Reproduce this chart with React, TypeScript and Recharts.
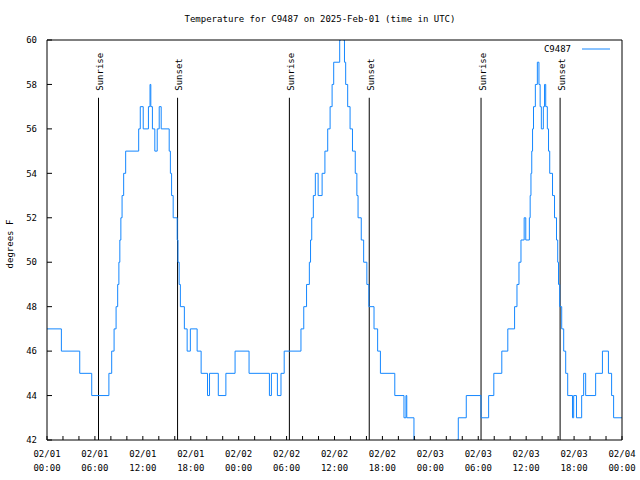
import { Legend, Line, LineChart, ReferenceLine, XAxis, YAxis } from 'recharts';

const FONT = '"DejaVu Sans Mono", "Liberation Mono", monospace';
const LINE_COLOUR = '#1487ff';

// hours since 2025-02-01 00:00 UTC where the reading changes, and the new reading (degrees F)
const HOURS = [
  0, 1.8, 4.1, 5.6, 7.75, 8.1, 8.4, 8.65, 8.85, 9.0, 9.12, 9.25, 9.4, 9.6, 9.85, 11.48, 11.68, 12.05,
  12.7, 12.9, 13.0, 13.2, 13.5, 13.8, 14.05, 14.3, 15.3, 15.45, 15.6, 15.8, 16.3, 16.4, 16.55, 16.7,
  17.2, 17.55, 17.95, 18.8, 19.3, 20.1, 20.35, 21.45, 22.4, 23.55, 25.3, 27.85, 28.1, 28.85, 29.3,
  29.7, 31.8, 32.15, 32.5, 32.85, 33.0, 33.15, 33.35, 33.6, 33.95, 34.45, 34.8, 35.15, 35.45, 35.7,
  35.9, 36.65, 36.8, 37.1, 37.25, 37.4, 37.65, 37.95, 38.25, 38.6, 38.8, 38.95, 39.35, 39.65, 40.05,
  40.3, 40.95, 41.4, 41.75, 43.55, 44.7, 44.95, 45.05, 45.95, 46.15, 51.3, 51.5, 52.5, 54.35, 55.3,
  55.95, 56.95, 57.7, 58.55, 58.85, 59.1, 59.35, 59.75, 59.95, 60.4, 60.5, 60.6, 60.7, 60.8, 60.92,
  61.15, 61.4, 61.6, 61.75, 61.9, 62.15, 62.3, 62.45, 62.65, 62.8, 62.95, 63.3, 63.55, 63.8, 63.95,
  64.05, 64.2, 64.45, 64.7, 64.95, 65.2, 65.8, 65.95, 66.3, 66.95, 67.2, 67.45, 68.7, 69.55, 70.3,
  70.7, 70.95, 72,
];
const TEMPS = [
  47, 46, 45, 44, 45, 46, 47, 48, 49, 50, 51, 52, 53, 54, 55, 56, 57, 56,
  57, 58, 57, 56, 55, 56, 57, 56, 55, 54, 53, 52, 51, 50, 49, 48,
  47, 46, 47, 46, 45, 44, 45, 44, 45, 46, 45, 44, 45, 44, 45,
  46, 47, 48, 49, 50, 51, 52, 53, 54, 53, 54, 55, 56, 57, 58,
  59, 60, 61, 60, 59, 58, 57, 56, 55, 54, 53, 52, 51, 50, 49,
  48, 47, 46, 45, 44, 43, 44, 43, 42, 41, 42, 43, 44, 43, 44,
  45, 46, 47, 48, 49, 50, 51, 52, 51, 52, 53, 54, 55, 56, 57,
  58, 59, 58, 57, 56, 57, 58, 57, 56, 55, 54, 53, 52, 51, 50,
  49, 48, 47, 46, 45, 44, 43, 44, 43, 44, 45, 44, 45, 46, 45,
  44, 43, 43,
];

const SUNRISE = [6.45, 30.35, 54.35];
const SUNSET = [16.35, 40.35, 64.25];
const SUN_LINE_TOP = 57.4;

const X_TICKS = [0, 2, 4, 6, 8, 10, 12, 14, 16, 18, 20, 22, 24, 26, 28, 30, 32, 34, 36, 38, 40, 42, 44, 46, 48, 50, 52, 54, 56, 58, 60, 62, 64, 66, 68, 70, 72];
const Y_TICKS = [42, 44, 46, 48, 50, 52, 54, 56, 58, 60];

const rows = HOURS.map((h, i) => ({ h, t: TEMPS[i] }));

const pad = (n: number) => String(n).padStart(2, '0');

function TimeTick(props: any) {
  const { x, y, payload } = props;
  const h = payload.value;
  if (h % 6 !== 0) return <g />;
  const day = Math.floor(h / 24) + 1;
  return (
    <g>
      <text x={x} y={y + 21} textAnchor="middle" fontSize={9} fontFamily={FONT} fill="#000">
        {`02/${pad(day)}`}
      </text>
      <text x={x} y={y + 35} textAnchor="middle" fontSize={9} fontFamily={FONT} fill="#000">
        {`${pad(h % 24)}:00`}
      </text>
    </g>
  );
}

const sunLabel = (text: string) => (props: any) => {
  const { x, y } = props.viewBox;
  const lx = x + 4.5;
  const ly = y - 7;
  return (
    <text x={lx} y={ly} transform={`rotate(-90 ${lx} ${ly})`} fontSize={9} fontFamily={FONT} fill="#000">
      {text}
    </text>
  );
};

export default function App() {
  return (
    <div style={{ position: 'absolute', left: 0, top: 0, width: 640, height: 480, background: '#fff' }}>
      <LineChart width={640} height={480} data={rows} margin={{ top: 30, right: 8, bottom: 0, left: 0 }}>
        <XAxis
          dataKey="h"
          type="number"
          domain={[0, 72]}
          ticks={X_TICKS}
          interval={0}
          height={40}
          tickSize={-4}
          tickMargin={0}
          tick={TimeTick}
          stroke="#000"
        />
        <XAxis
          xAxisId="top"
          orientation="top"
          type="number"
          domain={[0, 72]}
          ticks={X_TICKS}
          interval={0}
          height={10}
          tickSize={-4}
          tick={false}
          stroke="#000"
        />
        <YAxis
          type="number"
          domain={[42, 60]}
          ticks={Y_TICKS}
          interval={0}
          allowDataOverflow
          width={47}
          tickSize={-5}
          tickMargin={15}
          tick={{ fontSize: 9, fontFamily: FONT, fill: '#000' }}
          stroke="#000"
        />
        <YAxis
          yAxisId="right"
          orientation="right"
          type="number"
          domain={[42, 60]}
          ticks={Y_TICKS}
          interval={0}
          width={10}
          tickSize={-5}
          tick={false}
          stroke="#000"
        />
        {SUNRISE.map((h) => (
          <ReferenceLine
            key={`r${h}`}
            segment={[{ x: h, y: 42 }, { x: h, y: SUN_LINE_TOP }]}
            stroke="#000"
            label={sunLabel('Sunrise')}
          />
        ))}
        {SUNSET.map((h) => (
          <ReferenceLine
            key={`s${h}`}
            segment={[{ x: h, y: 42 }, { x: h, y: SUN_LINE_TOP }]}
            stroke="#000"
            label={sunLabel('Sunset')}
          />
        ))}
        <Legend
          layout="vertical"
          align="center"
          verticalAlign="middle"
          wrapperStyle={{ position: 'absolute', left: 500, top: 42, width: 110 }}
          content={() => (
            <div style={{ display: 'flex', justifyContent: 'flex-end', alignItems: 'center', height: 14 }}>
              <span style={{ fontFamily: FONT, fontSize: 9, color: '#000' }}>C9487</span>
              <svg width={28} height={14} style={{ marginLeft: 11 }}>
                <line x1={0} y1={7} x2={28} y2={7} stroke={LINE_COLOUR} strokeWidth={1} />
              </svg>
            </div>
          )}
        />
        <Line
          type="stepAfter"
          dataKey="t"
          name="C9487"
          stroke={LINE_COLOUR}
          strokeWidth={1}
          dot={false}
          isAnimationActive={false}
        />
      </LineChart>
      <svg width={640} height={480} style={{ position: 'absolute', left: 0, top: 0, pointerEvents: 'none' }}>
        <text x={320} y={22} textAnchor="middle" fontSize={9} fontFamily={FONT} fill="#000">
          Temperature for C9487 on 2025-Feb-01 (time in UTC)
        </text>
        <text x={13} y={244} textAnchor="middle" transform="rotate(-90 13 244)" fontSize={9} fontFamily={FONT} fill="#000">
          degrees F
        </text>
      </svg>
    </div>
  );
}
